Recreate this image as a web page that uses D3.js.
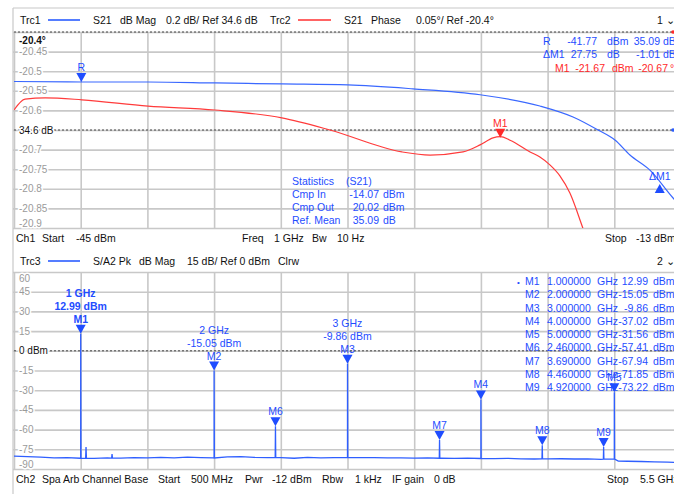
<!doctype html>
<html lang="en">
<head>
<meta charset="utf-8">
<title>VNA compression + spectrum</title>
<script src="https://cdnjs.cloudflare.com/ajax/libs/d3/7.8.5/d3.min.js"></script>
<style>
    body { margin: 0; background: #fff; }
    svg text { font-family: "Liberation Sans", Arial, sans-serif; font-size: 10.5px; }
    .grid line { stroke: #c8c8c8; stroke-width: 1.6; }
    .grid path { display: none; }
    .ticklab { fill: #9a9a9a; font-size: 10px; paint-order: stroke; stroke: #fff; stroke-width: 3px; }
    .blue { fill: #1f4dff; }
    .red { fill: #ff2a2a; }
</style>
</head>
<body>
<div id="chart"></div>
<script>
// ---- channel 1: power sweep at 1 GHz ----
var pwrMag = [-45, -41.74, -38.57, -35.36, -32.15, -28.98, -25.86, -22.64, -19.77, -18.18, -16.98, -16.17, -15.45, -14.49, -13.38, -13];
var s21Mag = [35.095, 35.09, 35.09, 35.08, 35.07, 35.06, 35.02, 34.96, 34.845, 34.733, 34.6, 34.498, 34.345, 34.19, 33.906, 33.82];
var pwrPh = [-45, -44.47, -43.5, -41.74, -38.57, -35.36, -32.15, -29.84, -26.39, -25.04, -23.46, -22.64, -22.02, -21.67, -21.2, -20.24, -19.77, -19.29, -18.81, -18.33, -17.71, -17.37];
var s21Phase = [-20.599, -20.571, -20.568, -20.573, -20.589, -20.599, -20.619, -20.65, -20.706, -20.714, -20.706, -20.688, -20.67, -20.667, -20.676, -20.706, -20.719, -20.739, -20.767, -20.811, -20.9, -20.95];
var phaseTicks = [-20.4, -20.45, -20.5, -20.55, -20.6, -20.65, -20.7, -20.75, -20.8, -20.85, -20.9];
var pwrTicks = [-45, -41.8, -38.6, -35.4, -32.2, -29, -25.8, -22.6, -19.4, -16.2, -13];

// ---- channel 2: spectrum 500 MHz .. 5.5 GHz ----
var floorFreq = [0.5, 0.6, 0.7, 0.8, 0.9, 1.0, 1.1, 1.2, 1.3, 1.4, 1.5, 1.6, 1.7, 1.8, 1.9, 2.0, 2.1, 2.2, 2.3, 2.4, 2.5, 2.6, 2.7, 2.8, 2.9, 3.0, 3.1, 3.2, 3.3, 3.4, 3.5, 3.6, 3.7, 3.8, 3.9, 4.0, 4.1, 4.2, 4.3, 4.4, 4.5, 4.6, 4.7, 4.8, 4.9, 5.0, 5.03, 5.1, 5.2, 5.3, 5.4, 5.5];
var floorLevel = [-80.2, -80.6, -81.0, -81.6, -81.4, -81.8, -81.9, -81.5, -81.7, -81.3, -81.6, -81.2, -81.5, -81.0, -81.4, -81.6, -80.8, -80.6, -81.2, -81.4, -81.3, -81.8, -81.2, -81.5, -81.3, -81.2, -81.4, -81.3, -81.6, -81.5, -81.7, -81.6, -81.8, -81.9, -81.7, -82.0, -82.1, -81.9, -82.3, -82.4, -82.3, -82.2, -82.4, -82.3, -82.6, -82.5, -84.0, -84.1, -84.3, -84.5, -84.8, -85.2];
var spurFreq = [1.04, 1.235];
var spurLevel = [-73.3, -78.6];
var markerNames = ["M1", "M2", "M3", "M4", "M5", "M6", "M7", "M8", "M9"];
var markerFreq = [1.0, 2.0, 3.0, 4.0, 5.0, 2.46, 3.69, 4.46, 4.92];
var markerLevel = [12.99, -15.05, -9.86, -37.02, -31.56, -57.41, -67.94, -71.85, -73.22];
var dbTicks = [60, 45, 30, 15, 0, -15, -30, -45, -60, -75, -90];
var freqTicks = [0.5, 1, 1.5, 2, 2.5, 3, 3.5, 4, 4.5, 5, 5.5];

var W = 674, H = 494;
var L = 14, R = 681;
var top1 = 32, bot1 = 228, top2 = 272, bot2 = 469;

var svg = d3.select('#chart').append('svg')
    .attr('width', W).attr('height', H);
svg.append('rect').attr('width', W).attr('height', H).attr('fill', '#fff');

var defs = svg.append('defs');
defs.append('clipPath').attr('id', 'c1').append('rect')
    .attr('x', L).attr('y', top1).attr('width', R - L).attr('height', bot1 - top1);
defs.append('clipPath').attr('id', 'c2').append('rect')
    .attr('x', L).attr('y', top2).attr('width', R - L).attr('height', bot2 - top2);

// scales
var xPwr = d3.scaleLinear().domain([-45, -13]).range([L, R]);
var yMag = d3.scaleLinear().domain([33.6, 35.6]).range([bot1, top1]);
var yPh = d3.scaleLinear().domain([-20.9, -20.4]).range([bot1, top1]);
var xF = d3.scaleLinear().domain([0.5, 5.5]).range([L, R]);
var yDb = d3.scaleLinear().domain([-90, 60]).range([bot2, top2]);

// outer frame
svg.append('line').attr('x1', 13).attr('x2', 13).attr('y1', 8).attr('y2', H)
    .attr('stroke', '#c8c8c8').attr('stroke-width', 1.2);
svg.append('line').attr('x1', 13).attr('x2', W).attr('y1', 8).attr('y2', 8)
    .attr('stroke', '#c8c8c8').attr('stroke-width', 1.2);

function grid(yScale, yTicks, xScale, xTicks, top, bot) {
    svg.append('g').attr('class', 'grid')
        .attr('transform', 'translate(' + (L - 1) + ',0)')
        .call(d3.axisRight(yScale).tickValues(yTicks).tickSize(R - L + 1).tickFormat(''));
    svg.append('g').attr('class', 'grid')
        .attr('transform', 'translate(0,' + bot + ')')
        .call(d3.axisTop(xScale).tickValues(xTicks).tickSize(bot - top).tickFormat(''));
}
grid(yPh, phaseTicks, xPwr, pwrTicks, top1, bot1);
grid(yDb, dbTicks, xF, freqTicks, top2, bot2);

// dashed reference lines
function dashed(y, col) {
    svg.append('line').attr('x1', L).attr('x2', R).attr('y1', y).attr('y2', y)
        .attr('stroke', col).attr('stroke-width', 0.9).attr('stroke-dasharray', '2,2');
}
dashed(yPh(-20.4), '#333');
dashed(yMag(34.6), '#333');
dashed(yDb(0), '#333');

function fix(v, n) { return v.toFixed(n); }

// y tick labels
phaseTicks.forEach(function(v, i) {
    var y = yPh(v) + 3.5;
    if (i === 0) y = yPh(v) + 12;
    if (i === phaseTicks.length - 1) y = yPh(v) - 1;
    var t = svg.append('text').attr('class', 'ticklab').attr('x', 19).attr('y', y);
    if (i === 0) t.text('-20.4°').style('fill', '#111').style('font-weight', 'bold');
    else if (v === -20.65) t.text('34.6 dB').style('fill', '#111');
    else t.text(String(v));
});
dbTicks.forEach(function(v, i) {
    var y = yDb(v) + 3.5;
    if (i === 0) y = yDb(v) + 10;
    if (i === dbTicks.length - 1) y = yDb(v) - 1;
    var t = svg.append('text').attr('class', 'ticklab').attr('x', 19).attr('y', y);
    if (v === 0) t.text('0 dBm').style('fill', '#111');
    else t.text(String(v));
});

// traces channel 1
var magLine = d3.line().curve(d3.curveMonotoneX)
    .x(function(d, i) { return xPwr(pwrMag[i]); })
    .y(function(d) { return yMag(d); });
var phLine = d3.line().curve(d3.curveMonotoneX)
    .x(function(d, i) { return xPwr(pwrPh[i]); })
    .y(function(d) { return yPh(d); });
var g1 = svg.append('g').attr('clip-path', 'url(#c1)');
g1.append('path').attr('d', phLine(s21Phase)).attr('fill', 'none')
    .attr('stroke', '#ff3b3b').attr('stroke-width', 1.2);
g1.append('path').attr('d', magLine(s21Mag)).attr('fill', 'none')
    .attr('stroke', '#3a68ff').attr('stroke-width', 1.2);

// markers channel 1
function triDown(x, y, col) {
    svg.append('path').attr('d', 'M' + (x - 5) + ',' + (y - 9) + 'L' + (x + 5) + ',' + (y - 9) + 'L' + x + ',' + y + 'Z')
        .attr('fill', col);
}
function triUp(x, y, col) {
    svg.append('path').attr('d', 'M' + (x - 5) + ',' + (y + 9) + 'L' + (x + 5) + ',' + (y + 9) + 'L' + x + ',' + y + 'Z')
        .attr('fill', col);
}
var rX = xPwr(-41.77), rY = yMag(35.09);
triDown(rX, rY, '#1f4dff');
svg.append('text').attr('class', 'blue').attr('x', rX).attr('y', rY - 11).attr('text-anchor', 'middle').text('R');
var m1X = xPwr(-21.67), m1Y = yPh(-20.67);
triDown(m1X, m1Y, '#ff2a2a');
svg.append('text').attr('class', 'red').attr('x', m1X).attr('y', m1Y - 11).attr('text-anchor', 'middle').text('M1');
var dX = xPwr(-41.77 + 27.75), dY = yMag(35.09 - 1.01);
triUp(dX, dY + 3, '#1f4dff');
svg.append('text').attr('class', 'blue').attr('x', dX).attr('y', dY - 1).attr('text-anchor', 'middle').text('ΔM1');

// spectrum trace
var spec = floorFreq.map(function(f, i) { return [f, floorLevel[i]]; });
function floorAt(f) {
    var i = d3.bisectLeft(floorFreq, f);
    return floorLevel[Math.min(i, floorLevel.length - 1)];
}
markerFreq.forEach(function(f, i) {
    var fl = floorAt(f);
    spec.push([f - 0.002, fl], [f, markerLevel[i]], [f + 0.002, fl]);
});
spurFreq.forEach(function(f, i) {
    var fl = floorAt(f);
    spec.push([f - 0.003, fl], [f, spurLevel[i]], [f + 0.003, fl]);
});
spec.sort(function(a, b) { return a[0] - b[0]; });
var specLine = d3.line().x(function(d) { return xF(d[0]); }).y(function(d) { return yDb(d[1]); });
svg.append('g').attr('clip-path', 'url(#c2)').append('path')
    .attr('d', specLine(spec)).attr('fill', 'none')
    .attr('stroke', '#2f5fff').attr('stroke-width', 1.3);

// spectrum markers
markerNames.forEach(function(n, i) {
    var x = xF(markerFreq[i]), y = yDb(markerLevel[i]);
    triDown(x, y, '#1f4dff');
    svg.append('text').attr('class', 'blue').attr('x', x).attr('y', y - 11)
        .attr('text-anchor', 'middle').style('font-weight', i === 0 ? 'bold' : null).text(n);
    if (i < 3) {
        svg.append('text').attr('class', 'blue').attr('x', x).attr('y', y - 24)
            .attr('text-anchor', 'middle').style('font-weight', i === 0 ? 'bold' : null)
            .text(fix(markerLevel[i], 2) + ' dBm');
        svg.append('text').attr('class', 'blue').attr('x', x).attr('y', y - 37)
            .attr('text-anchor', 'middle').style('font-weight', i === 0 ? 'bold' : null)
            .text(markerFreq[i] + ' GHz');
    }
});

// marker table (channel 2)
markerNames.forEach(function(n, i) {
    var y = 285 + i * 13.25;
    if (i === 0) svg.append('text').attr('class', 'blue').attr('x', 517).attr('y', y).text('•').style('font-size', '8px');
    svg.append('text').attr('class', 'blue').attr('x', 525).attr('y', y).text(n);
    svg.append('text').attr('class', 'blue').attr('x', 547).attr('y', y).text(fix(markerFreq[i], 6));
    svg.append('text').attr('class', 'blue').attr('x', 597).attr('y', y).text('GHz');
    svg.append('text').attr('class', 'blue').attr('x', 648).attr('y', y).attr('text-anchor', 'end').text(fix(markerLevel[i], 2));
    svg.append('text').attr('class', 'blue').attr('x', 653).attr('y', y).text('dBm');
});

// marker readout (channel 1)
function put(x, y, s, cls, anchor) {
    svg.append('text').attr('class', cls).attr('x', x).attr('y', y)
        .attr('text-anchor', anchor || 'start').text(s);
}
put(543, 45, 'R', 'blue'); put(597, 45, '-41.77', 'blue', 'end'); put(607, 45, 'dBm', 'blue');
put(660, 45, '35.09', 'blue', 'end'); put(663, 45, 'dB', 'blue');
put(543, 58, 'ΔM1', 'blue'); put(597, 58, '27.75', 'blue', 'end'); put(607, 58, 'dB', 'blue');
put(660, 58, '-1.01', 'blue', 'end'); put(663, 58, 'dB', 'blue');
put(555, 72, 'M1', 'red'); put(605, 72, '-21.67', 'red', 'end'); put(612, 72, 'dBm', 'red');
put(668, 72, '-20.67', 'red', 'end'); put(670, 72, '°', 'red');

// statistics block
var statY = [185, 198, 211, 224];
put(292, statY[0], 'Statistics', 'blue'); put(346, statY[0], '(S21)', 'blue');
put(292, statY[1], 'Cmp In', 'blue'); put(379, statY[1], '-14.07', 'blue', 'end'); put(383, statY[1], 'dBm', 'blue');
put(292, statY[2], 'Cmp Out', 'blue'); put(379, statY[2], '20.02', 'blue', 'end'); put(383, statY[2], 'dBm', 'blue');
put(292, statY[3], 'Ref. Mean', 'blue'); put(379, statY[3], '35.09', 'blue', 'end'); put(383, statY[3], 'dB', 'blue');

// headers & footers
function label(x, y, s) {
    svg.append('text').attr('x', x).attr('y', y).attr('fill', '#111').text(s);
}
function swatch(y, col) {
    svg.append('line').attr('x1', 48).attr('x2', 80).attr('y1', y).attr('y2', y)
        .attr('stroke', col).attr('stroke-width', 1.6);
}
label(20, 24, 'Trc1'); swatch(20, '#2a5cff'); label(93, 24, 'S21'); label(120, 24, 'dB Mag');
label(166, 24, '0.2 dB/ Ref 34.6 dB'); label(270, 24, 'Trc2');
svg.append('line').attr('x1', 298).attr('x2', 331).attr('y1', 20).attr('y2', 20)
    .attr('stroke', '#ff3030').attr('stroke-width', 1.6);
label(344, 24, 'S21'); label(371, 24, 'Phase'); label(416, 24, '0.05°/ Ref -20.4°');
label(657, 24, '1 ⌄');
svg.append('circle').attr('cx', 673).attr('cy', 32).attr('r', 1.8).attr('fill', '#ff2a2a');
svg.append('circle').attr('cx', 673).attr('cy', yMag(34.6)).attr('r', 1.8).attr('fill', '#2a5cff');

label(16, 242, 'Ch1'); label(42, 242, 'Start'); label(76, 242, '-45 dBm');
label(242, 242, 'Freq'); label(274, 242, '1 GHz'); label(312, 242, 'Bw'); label(337, 242, '10 Hz');
label(605, 242, 'Stop'); label(636, 242, '-13 dBm');

label(20, 265, 'Trc3'); swatch(261, '#2a5cff'); label(93, 265, 'S/A2 Pk'); label(139, 265, 'dB Mag');
label(187, 265, '15 dB/ Ref 0 dBm'); label(278, 265, 'Clrw');
label(657, 265, '2 ⌄');

label(16, 483, 'Ch2'); label(42, 483, 'Spa Arb Channel Base'); label(158, 483, 'Start'); label(191, 483, '500 MHz');
label(245, 483, 'Pwr'); label(272, 483, '-12 dBm'); label(322, 483, 'Rbw'); label(355, 483, '1 kHz');
label(392, 483, 'IF gain'); label(434, 483, '0 dB'); label(607, 483, 'Stop'); label(640, 483, '5.5 GHz');
</script>
</body>
</html>
